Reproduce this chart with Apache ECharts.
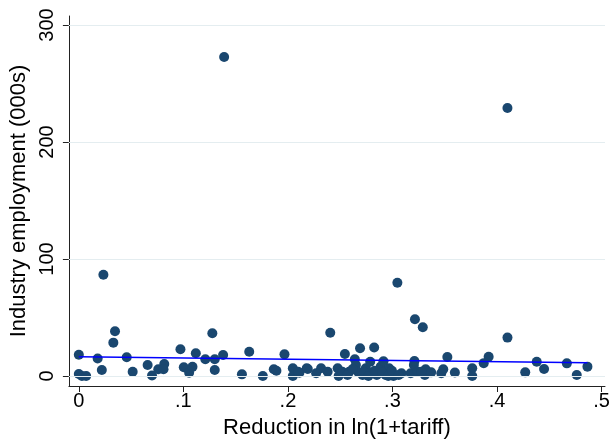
<!DOCTYPE html>
<html>
<head>
<meta charset="utf-8">
<script src="https://cdn.jsdelivr.net/npm/echarts@6/dist/echarts.min.js"></script>
<style>
html,body{margin:0;padding:0;background:#fff;}
#chart{width:613px;height:445px;}
</style>
</head>
<body>
<div id="chart"></div>
<script>
// Tariff reduction (x) values
const tariffReduction = [
  0.000, 0.000, 0.003, 0.007, 0.018, 0.022, 0.0235, 0.033, 0.0346, 0.0458,
  0.0515, 0.0658, 0.070, 0.076, 0.0817, 0.081, 0.0972, 0.1004, 0.1055, 0.1087,
  0.1119, 0.121, 0.1277, 0.130, 0.130, 0.138, 0.139, 0.156, 0.163, 0.176,
  0.1865, 0.189, 0.1967, 0.2047, 0.2047, 0.211, 0.218, 0.227, 0.2317, 0.238,
  0.2405, 0.2476, 0.2485, 0.252, 0.2545, 0.2586, 0.264, 0.265, 0.267, 0.269,
  0.2714, 0.2745, 0.2787, 0.279, 0.2825, 0.285, 0.2888, 0.2914, 0.2935, 0.2968,
  0.2985, 0.301, 0.3047, 0.3086, 0.3174, 0.3205, 0.321, 0.3215, 0.324, 0.329,
  0.3317, 0.331, 0.3276, 0.337, 0.3467, 0.3486, 0.3525, 0.3597, 0.3763, 0.3763,
  0.3873, 0.392, 0.410, 0.410, 0.427, 0.438, 0.445, 0.4668, 0.4763, 0.4865,
  0.2097, 0.219, 0.257, 0.262, 0.273, 0.277, 0.283, 0.290, 0.296, 0.2995, 0.306
];
// Industry employment (000s) values
const employment = [
  18.2, 1.7, 0.0, 0.0, 15.0, 5.1, 86.6, 28.5, 38.3, 16.0,
  3.7, 9.4, 0.5, 5.7, 10.3, 5.7, 22.8, 7.4, 2.8, 7.8,
  19.4, 14.3, 36.5, 14.3, 5.1, 18.0, 272.6, 1.4, 20.8, 0.0,
  5.7, 4.5, 18.5, 6.6, 0.0, 2.8, 6.6, 2.3, 6.6, 3.7,
  37.0, 6.6, 0.0, 3.7, 18.8, 3.7, 14.3, 9.4, 3.7, 23.7,
  0.9, 6.6, 12.2, 2.8, 24.4, 0.9, 8.0, 12.6, 0.9, 6.6,
  2.8, 0.0, 79.7, 2.3, 2.3, 9.4, 12.8, 48.5, 3.7, 41.6,
  5.7, 0.9, 3.7, 3.1, 2.3, 5.7, 16.3, 3.0, 6.6, 0.0,
  11.0, 16.5, 32.8, 229.0, 3.1, 12.2, 6.0, 10.8, 0.9, 8.0,
  3.7, 6.0, 0.9, 6.0, 3.0, 0.0, 4.5, 3.0, 0.0, 4.5, 0.9
];
// Fitted line end points
const fitX = [0.0, 0.4865];
const fitY = [16.5, 11.4];
// Tick values and labels
const xTicks = [0, 0.1, 0.2, 0.3, 0.4, 0.5];
const xTickLabels = ['0', '.1', '.2', '.3', '.4', '.5'];
const yTicks = [0, 100, 200, 300];
const yTickLabels = ['0', '100', '200', '300'];
const xTitle = 'Reduction in ln(1+tariff)';
const yTitle = 'Industry employment (000s)';

const scatterData = tariffReduction.map((x, i) => [x, employment[i]]);
const fitData = fitX.map((x, i) => [x, fitY[i]]);
const FONT = '"Liberation Sans", Arial, sans-serif';

const chart = echarts.init(document.getElementById('chart'), null, {renderer: 'canvas'});
chart.setOption({
  animation: false,
  backgroundColor: '#ffffff',
  grid: {left: 67, right: 8, top: 16, bottom: 59, containLabel: false},
  xAxis: {
    type: 'value',
    min: -0.0095,
    max: 0.5033,
    name: xTitle,
    nameLocation: 'middle',
    nameGap: 31,
    nameTextStyle: {fontFamily: FONT, fontSize: 22, color: '#000'},
    axisLine: {show: true, onZero: false, lineStyle: {color: '#222', width: 1}},
    axisTick: {show: true, length: 6, customValues: xTicks, lineStyle: {color: '#222'}},
    axisLabel: {
      customValues: xTicks,
      margin: 5,
      fontFamily: FONT, fontSize: 20, color: '#000',
      formatter: v => { const i = xTicks.findIndex(t => Math.abs(t - v) < 1e-9); return i >= 0 ? xTickLabels[i] : ''; }
    },
    splitLine: {show: false}
  },
  yAxis: {
    type: 'value',
    min: -8.55,
    max: 307.7,
    name: yTitle,
    nameLocation: 'middle',
    nameGap: 33,
    nameRotate: 90,
    nameTextStyle: {fontFamily: FONT, fontSize: 22, color: '#000'},
    axisLine: {show: true, onZero: false, lineStyle: {color: '#222', width: 1}},
    axisTick: {show: true, length: 6, customValues: yTicks, lineStyle: {color: '#222'}},
    axisLabel: {
      customValues: yTicks,
      rotate: 90,
      margin: 11,
      fontFamily: FONT, fontSize: 20, color: '#000',
      formatter: v => { const i = yTicks.findIndex(t => Math.abs(t - v) < 1e-9); return i >= 0 ? yTickLabels[i] : ''; }
    },
    splitLine: {show: false}
  },
  series: [
    {
      type: 'line',
      data: fitData,
      symbol: 'none',
      z: 3,
      lineStyle: {color: '#0000ff', width: 1.5},
      silent: true,
      markLine: {
        silent: true,
        symbol: 'none',
        label: {show: false},
        lineStyle: {color: '#e4edf0', width: 1, type: 'solid'},
        data: yTicks.map(v => ({yAxis: v}))
      }
    },
    {
      type: 'scatter',
      data: scatterData,
      symbol: 'circle',
      symbolSize: 10,
      z: 2,
      itemStyle: {color: '#1a476f', opacity: 1}
    }
  ]
});
</script>
</body>
</html>
